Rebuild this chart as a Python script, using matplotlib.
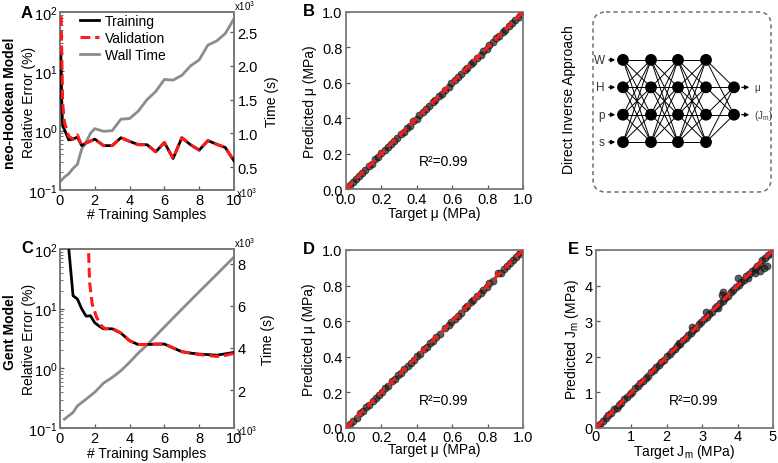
import matplotlib
matplotlib.use("Agg")
import matplotlib.pyplot as plt
from matplotlib.patches import FancyBboxPatch, Circle

plt.rcParams['font.family'] = ['Liberation Sans', 'DejaVu Sans']
plt.rcParams['mathtext.fontset'] = 'custom'
plt.rcParams['mathtext.rm'] = 'Liberation Sans'
plt.rcParams['mathtext.it'] = 'Liberation Sans:italic'
plt.rcParams['font.size'] = 10

# ---- panel A: neo-Hookean error / wall time ----
a_x = [0.05, 0.1, 0.15, 0.25, 0.5, 0.75, 1.0, 1.25, 1.5, 2.0, 2.5, 3.0, 3.5, 4.0,
       4.5, 5.0, 5.5, 6.0, 6.5, 7.0, 7.5, 8.0, 8.5, 9.0, 9.5, 10.0]
a_train = [20, 3.0, 1.2, 1.05, 0.7, 0.72, 0.78, 0.56, 0.62, 0.72, 0.56, 0.56, 0.76, 0.66,
           0.58, 0.58, 0.44, 0.63, 0.34, 0.76, 0.58, 0.47, 0.68, 0.59, 0.52, 0.31]
a_val = [150, 20, 3.0, 1.4, 0.8, 0.72, 0.85, 0.56, 0.62, 0.72, 0.56, 0.56, 0.76, 0.66,
         0.58, 0.58, 0.44, 0.63, 0.34, 0.76, 0.58, 0.47, 0.68, 0.59, 0.52, 0.31]
a_tx = [0, 0.25, 0.5, 0.75, 1.0, 1.25, 1.5, 1.75, 2.0, 2.5, 3.0, 3.5, 4.0, 4.5, 5.0,
        5.5, 6.0, 6.5, 7.0, 7.5, 8.0, 8.5, 9.0, 9.5, 10.0]
a_time = [0.28, 0.35, 0.40, 0.48, 0.54, 0.77, 0.87, 1.0, 1.07, 1.03, 1.04, 1.21, 1.22,
          1.33, 1.50, 1.62, 1.80, 1.79, 1.86, 2.0, 2.09, 2.31, 2.37, 2.48, 2.70]

# ---- panel C: Gent error / wall time ----
c_x = [0.45, 0.75, 1.0, 1.25, 1.5, 1.75, 2.0, 2.25, 2.5, 3.0, 3.5, 4.0, 4.5, 5.0,
       5.5, 6.0, 6.5, 7.0, 7.5, 8.0, 8.5, 9.0, 9.5, 10.0]
c_train = [150, 16.5, 14.5, 9.9, 7.5, 7.6, 5.8, 5.1, 4.6, 4.6, 3.9, 2.9, 2.5, 2.5,
           2.55, 2.55, 2.2, 1.9, 1.8, 1.73, 1.7, 1.66, 1.75, 1.85]
c_vx = [1.62, 1.7, 1.85, 2.1, 2.4, 2.6, 3.0, 3.5, 4.0, 4.5, 5.0, 5.5, 6.0, 6.5, 7.0,
        7.5, 8.0, 8.5, 9.0, 9.5, 10.0]
c_val = [150, 28, 12, 7.2, 5.1, 4.6, 4.7, 3.9, 2.9, 2.5, 2.5, 2.55, 2.55, 2.2, 1.9,
         1.8, 1.7, 1.65, 1.58, 1.65, 1.78]
c_tx = [0.25, 0.75, 1.0, 1.5, 2.0, 2.5, 3.0, 3.5, 4.0, 4.5, 5.0, 6.0, 7.0, 8.0, 9.0, 10.0]
c_time = [0.62, 0.94, 1.25, 1.57, 1.9, 2.33, 2.6, 2.92, 3.32, 3.76, 4.14, 5.0, 5.84,
          6.67, 7.49, 8.32]

# ---- panels B, D, E: predicted vs target ----
b_target = [0.005, 0.02, 0.04, 0.055, 0.075, 0.09, 0.11, 0.13, 0.145, 0.165, 0.18, 0.2,
            0.22, 0.235, 0.255, 0.27, 0.29, 0.31, 0.325, 0.345, 0.36, 0.38, 0.40, 0.415,
            0.435, 0.45, 0.47, 0.49, 0.505, 0.525, 0.54, 0.56, 0.58, 0.595, 0.615, 0.63,
            0.65, 0.67, 0.685, 0.705, 0.72, 0.74, 0.76, 0.775, 0.795, 0.81, 0.83, 0.85,
            0.865, 0.885, 0.90, 0.92, 0.94, 0.955, 0.975, 0.99]
b_pred = [0.008, 0.022, 0.038, 0.057, 0.073, 0.092, 0.108, 0.132, 0.143, 0.167, 0.178,
          0.203, 0.218, 0.237, 0.253, 0.272, 0.288, 0.312, 0.323, 0.347, 0.358, 0.382,
          0.398, 0.417, 0.433, 0.452, 0.468, 0.492, 0.503, 0.527, 0.538, 0.562, 0.578,
          0.597, 0.613, 0.632, 0.648, 0.672, 0.683, 0.707, 0.718, 0.742, 0.758, 0.777,
          0.793, 0.812, 0.828, 0.852, 0.863, 0.887, 0.898, 0.922, 0.938, 0.957, 0.973,
          0.988]
d_target = [0.005, 0.025, 0.04, 0.06, 0.08, 0.095, 0.115, 0.13, 0.15, 0.17, 0.185, 0.205,
            0.22, 0.24, 0.26, 0.275, 0.295, 0.31, 0.33, 0.35, 0.365, 0.385, 0.40, 0.42,
            0.44, 0.455, 0.475, 0.49, 0.51, 0.53, 0.56, 0.58, 0.595, 0.615, 0.63, 0.65,
            0.67, 0.685, 0.705, 0.72, 0.74, 0.76, 0.775, 0.795, 0.81, 0.83, 0.86, 0.875,
            0.89, 0.91, 0.925, 0.945, 0.96, 0.98, 0.99]
d_pred = [0.008, 0.023, 0.042, 0.058, 0.082, 0.093, 0.117, 0.128, 0.152, 0.168, 0.187,
          0.203, 0.222, 0.238, 0.262, 0.273, 0.297, 0.308, 0.332, 0.348, 0.367, 0.383,
          0.402, 0.418, 0.442, 0.453, 0.477, 0.488, 0.512, 0.527, 0.562, 0.578, 0.597,
          0.613, 0.632, 0.648, 0.672, 0.683, 0.707, 0.718, 0.742, 0.758, 0.777, 0.793,
          0.812, 0.828, 0.868, 0.873, 0.892, 0.908, 0.927, 0.943, 0.962, 0.978, 0.988]
e_target = [0.05, 0.12, 0.2, 0.28, 0.35, 0.43, 0.5, 0.58, 0.65, 0.72, 0.8, 0.88, 0.95,
            1.03, 1.1, 1.18, 1.25, 1.33, 1.4, 1.48, 1.55, 1.63, 1.7, 1.78, 1.85, 1.93,
            2.0, 2.08, 2.15, 2.23, 2.3, 2.38, 2.45, 2.53, 2.6, 2.68, 2.75, 2.83, 2.9,
            2.98, 3.05, 3.13, 3.2, 3.28, 3.35, 3.43, 3.5, 3.58, 3.65, 3.73, 3.8, 3.88,
            3.95, 4.03, 4.1, 4.18, 4.25, 4.33, 4.4, 4.48, 4.55, 4.63, 4.7, 4.78, 4.85,
            4.93, 3.6, 3.55, 3.1, 2.7, 2.35, 4.0, 4.5, 4.62, 4.75, 4.82, 3.45, 4.3]
e_pred = [0.06, 0.11, 0.21, 0.27, 0.36, 0.42, 0.52, 0.57, 0.66, 0.71, 0.81, 0.87, 0.96,
          1.02, 1.11, 1.17, 1.26, 1.32, 1.41, 1.47, 1.56, 1.62, 1.71, 1.77, 1.86, 1.92,
          2.01, 2.07, 2.16, 2.22, 2.31, 2.37, 2.46, 2.52, 2.61, 2.67, 2.76, 2.82, 2.91,
          2.97, 3.06, 3.12, 3.21, 3.27, 3.36, 3.42, 3.51, 3.57, 3.66, 3.72, 3.81, 3.87,
          3.96, 4.02, 4.11, 4.17, 4.26, 4.32, 4.41, 4.47, 4.56, 4.62, 4.71, 4.77, 4.86,
          4.92, 3.82, 3.75, 3.25, 2.84, 2.4, 4.2, 4.35, 4.42, 4.5, 4.55, 3.38, 4.22]

# ---- network diagram ----
layer_sizes = [4, 4, 4, 4, 2]
in_labels = ['W', 'H', 'p', 's']
out_labels = ['\u03bc', r'(J$_\mathregular{m}$)']

W, H = 778, 464
fig = plt.figure(figsize=(7.78, 4.64), dpi=100)

SPINE = '#7a7a7a'
RED = '#ff1a1a'
GRAY = '#8c8c8c'


def add_ax(l, t, r, b):
    return fig.add_axes([l / W, 1 - b / H, (r - l) / W, (b - t) / H])


def style(ax, xpad=3):
    for s in ax.spines.values():
        s.set_color(SPINE)
        s.set_linewidth(1.3)
    ax.tick_params(which='both', direction='in', color='#555555', labelsize=10.5)
    ax.tick_params(axis='y', which='both', pad=2.5)
    ax.tick_params(axis='x', which='both', pad=xpad)
    ax.tick_params(which='major', length=3, width=0.9)
    ax.tick_params(which='minor', length=1.8, width=0.6)


def place_labels(ax, xl_off, yl_x):
    # xlabel centre xl_off pixels below the axes, ylabel centre at yl_x (axes frac)
    bb = ax.get_position()
    ax.xaxis.set_label_coords(0.5, -xl_off / (bb.height * H))
    ax.xaxis.label.set_verticalalignment('center')
    ax.yaxis.set_label_coords(yl_x, 0.5)
    ax.yaxis.label.set_verticalalignment('center')


def error_panel(ax, x, tr, vx, va, tx, tm, tlim, tticks, tlabels, xl_off, rl_x):
    ax.set_yscale('log')
    ln1, = ax.plot(x, tr, color='black', lw=2, label='Training', zorder=3)
    ln2, = ax.plot(vx, va, color=RED, lw=2.2, ls=(0, (3.2, 1.6)), label='Validation',
                   zorder=4)
    ax.set_ylim(0.1, 100)
    ax.set_xlim(0, 10)
    ax.set_xticks([0, 2, 4, 6, 8, 10])
    ax.set_ylabel('Relative Error (%)', fontsize=10)
    ax.set_xlabel('# Training Samples', fontsize=10)
    style(ax, xpad=2.5)
    ax.tick_params(axis='y', which='both', pad=1.5)
    place_labels(ax, xl_off, -0.18)
    ax2 = ax.twinx()
    ln3, = ax2.plot(tx, tm, color=GRAY, lw=2, label='Wall Time', zorder=2)
    ax2.set_ylim(*tlim)
    ax2.set_yticks(tticks)
    ax2.set_yticklabels(tlabels)
    ax2.set_ylabel('Time (s)', fontsize=10)
    style(ax2)
    ax2.yaxis.set_label_coords(rl_x, 0.5)
    ax2.yaxis.label.set_verticalalignment('center')
    ax.set_zorder(ax2.get_zorder() + 1)
    ax.patch.set_visible(False)
    ax2.text(1.0, 1.0 + 7 / (ax.get_position().height * H), r'x10$^3$',
             transform=ax2.transAxes, fontsize=7, va='center', ha='left')
    ax2.text(1.01, -0.01, r'x10$^3$', transform=ax2.transAxes, fontsize=7,
             va='center', ha='left')
    return ln1, ln2, ln3


def scatter_panel(ax, tgt, pred, lim, ticks, ticklabels, xl, yl, xpad, xl_off, yl_x):
    ax.scatter(tgt, pred, s=26, color='#1a1a1a', alpha=0.7, edgecolors='#111111',
               linewidths=0.5, zorder=2)
    ax.plot([0, lim], [0, lim], color=RED, lw=2.3, ls=(0, (3.2, 1.5)), zorder=3)
    ax.set_xlim(0, lim)
    ax.set_ylim(0, lim)
    ax.set_xticks(ticks)
    ax.set_yticks(ticks)
    ax.set_xticklabels(ticklabels)
    ax.set_yticklabels(ticklabels)
    ax.set_xlabel(xl, fontsize=10)
    ax.set_ylabel(yl, fontsize=10)
    ax.text(0.55, 0.16, 'R\u00b2=0.99', transform=ax.transAxes, fontsize=10,
            ha='center', va='center')
    style(ax, xpad=xpad)
    place_labels(ax, xl_off, yl_x)


# A
axA = add_ax(60, 13, 234, 191)
h = error_panel(axA, a_x, a_train, a_x, a_val, a_tx, a_time, (0.16, 2.8),
                [0.5, 1.0, 1.5, 2.0, 2.5], ['0.5', '1.0', '1.5', '2.0', '2.5'],
                24, 1.217)
axA.legend(handles=list(h), loc='upper left', bbox_to_anchor=(0.115, 0.99),
           frameon=False, fontsize=10, handlelength=1.4, labelspacing=0.22,
           borderpad=0, borderaxespad=0, handletextpad=0.4)

# C
axC = add_ax(60, 250, 234, 429)
error_panel(axC, c_x, c_train, c_vx, c_val, c_tx, c_time, (0.2, 8.7),
            [2, 4, 6, 8], ['2', '4', '6', '8'], 25, 1.197)

# B, D, E
mu_ticks = [0, 0.2, 0.4, 0.6, 0.8, 1.0]
mu_labels = ['0.0', '0.2', '0.4', '0.6', '0.8', '1.0']
axB = add_ax(346, 13, 523, 190)
scatter_panel(axB, b_target, b_pred, 1.0, mu_ticks, mu_labels,
              'Target \u03bc (MPa)', 'Predicted \u03bc (MPa)', 2.5, 24, -0.203)
axD = add_ax(346, 251, 523, 429)
scatter_panel(axD, d_target, d_pred, 1.0, mu_ticks, mu_labels,
              'Target \u03bc (MPa)', 'Predicted \u03bc (MPa)', 1.2, 21.5, -0.209)
axE = add_ax(596, 251, 773, 429)
scatter_panel(axE, e_target, e_pred, 5, [0, 1, 2, 3, 4, 5],
              ['0', '1', '2', '3', '4', '5'],
              r'Target J$_\mathregular{m}$ (MPa)', r'Predicted J$_\mathregular{m}$ (MPa)',
              1.0, 23, -0.137)

# panel letters and row labels
for letter, px, py in [('A', 27, 13), ('B', 309, 12), ('C', 27, 249), ('D', 309, 250),
                       ('E', 573, 250)]:
    fig.text(px / W, 1 - py / H, letter, fontsize=12, fontweight='bold',
             ha='center', va='center')
fig.text(10 / W, 1 - 103 / H, 'neo-Hookean Model', rotation=90, fontsize=10,
         fontweight='bold', ha='center', va='center')
fig.text(10 / W, 1 - 332 / H, 'Gent Model', rotation=90, fontsize=10,
         fontweight='bold', ha='center', va='center')

# diagram in pixel coordinates
axN = fig.add_axes([0, 0, 1, 1], zorder=-1)
axN.set_xlim(0, W)
axN.set_ylim(H, 0)
axN.axis('off')
axN.add_patch(FancyBboxPatch((593, 13), 178, 180, boxstyle='round,pad=0,rounding_size=13',
                             fill=False, ec=SPINE, lw=1.2, ls=(0, (2.5, 2))))
axN.text(569, 100, 'Direct Inverse Approach', rotation=90, fontsize=10,
         ha='center', va='center')
layer_x = [623, 651, 678, 706, 734]
yc, dy = 102, 27.4
nodes = []
for lx, n in zip(layer_x, layer_sizes):
    nodes.append([(lx, yc + (i - (n - 1) / 2) * dy) for i in range(n)])
for la, lb in zip(nodes[:-1], nodes[1:]):
    for p in la:
        for q in lb:
            axN.plot([p[0], q[0]], [p[1], q[1]], color='black', lw=0.7)
for layer in nodes:
    for (px, py) in layer:
        axN.add_patch(Circle((px, py), 5.2, color='black', zorder=3))
for (px, py), lab in zip(nodes[0], in_labels):
    axN.annotate('', xy=(px - 5, py), xytext=(px - 17, py),
                 arrowprops=dict(arrowstyle='-|>', color='black', lw=0.9,
                                 mutation_scale=6))
    axN.text(px - 18, py, lab, fontsize=8.5, ha='right', va='center', color='#333333')
for (px, py), lab in zip(nodes[-1], out_labels):
    axN.annotate('', xy=(px + 18, py), xytext=(px + 5, py),
                 arrowprops=dict(arrowstyle='-|>', color='black', lw=0.9,
                                 mutation_scale=6))
    axN.text(px + 20, py, lab, fontsize=7, ha='left', va='center', color='#333333')

fig.savefig('out.png', dpi=100)
